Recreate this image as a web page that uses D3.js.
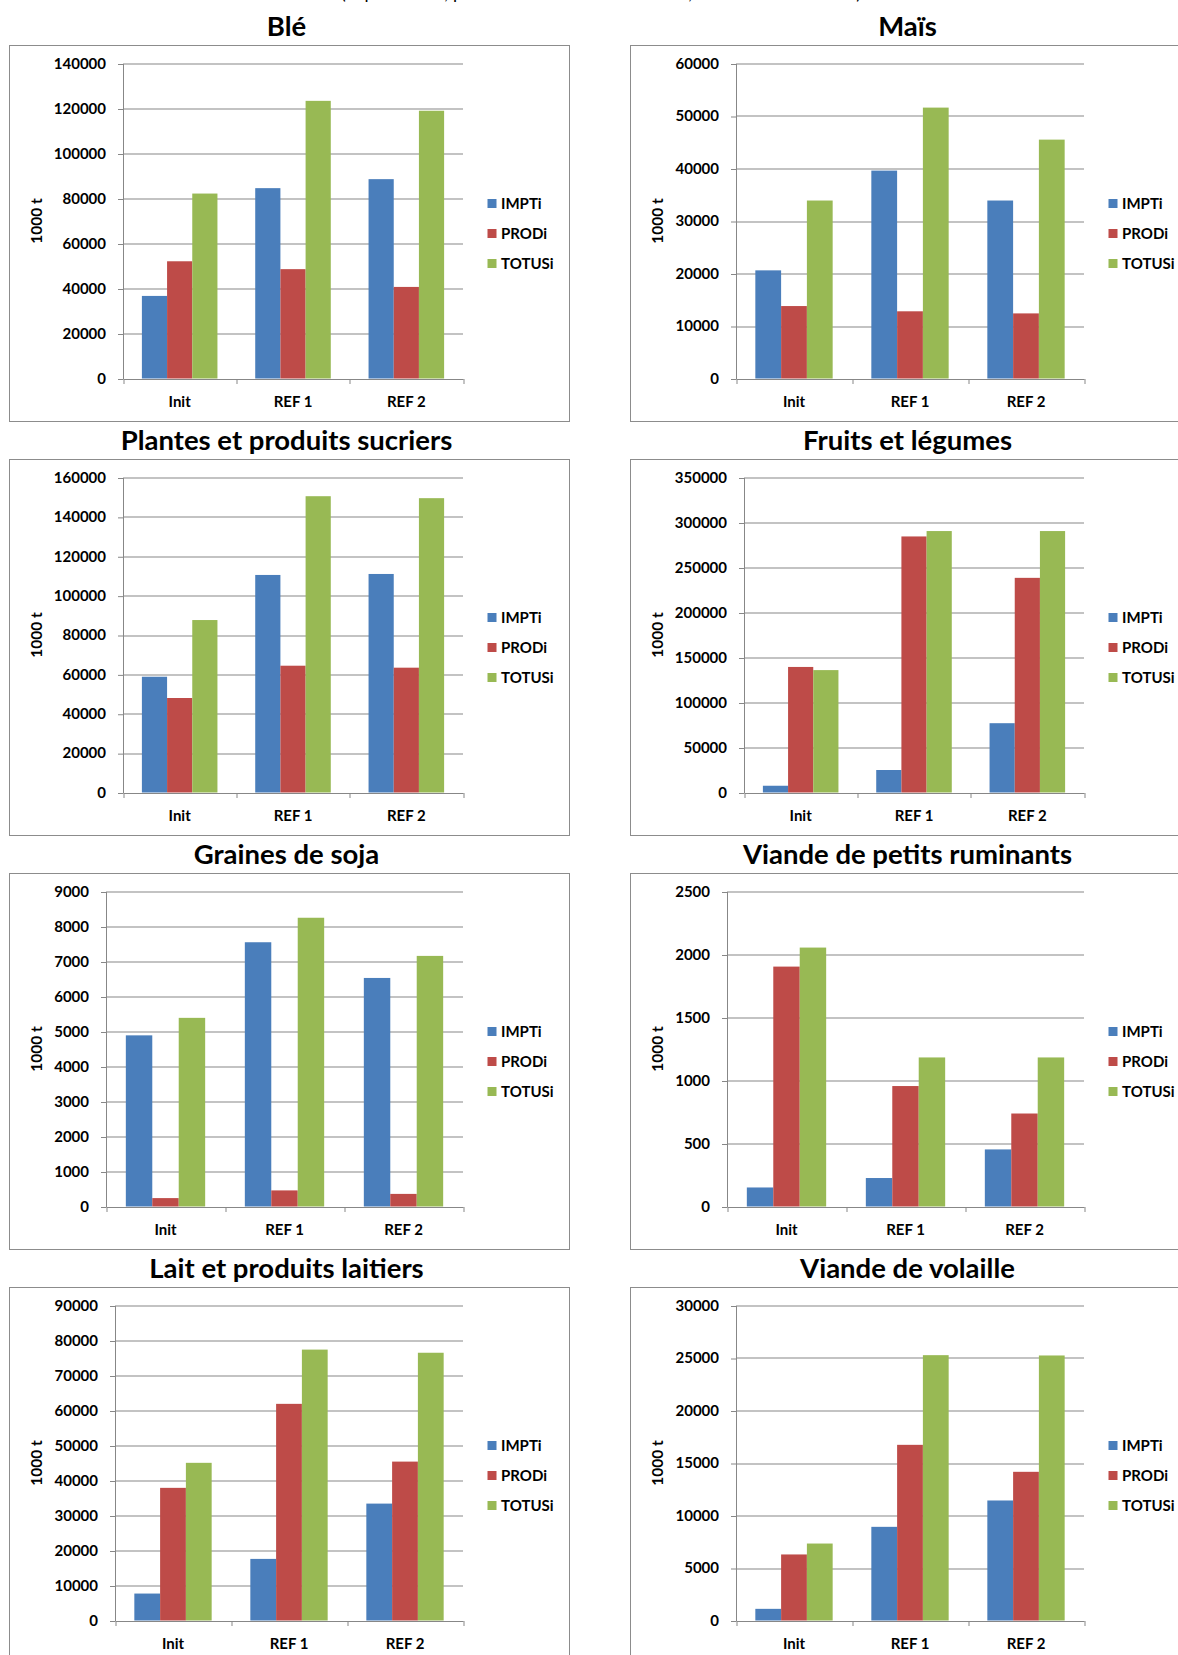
<!DOCTYPE html>
<html><head><meta charset="utf-8">
<script src="https://cdn.jsdelivr.net/npm/d3@7"></script>
<style>
body{margin:0;background:#fff}
svg{display:block}
text{font-family:Lato,"Open Sans",sans-serif}
</style>
</head><body>
<svg id="chart" width="1178" height="1655"></svg>
<script>
// ---------- DATA ----------
const categories = ["Init", "REF 1", "REF 2"];
const seriesNames = ["IMPTi", "PRODi", "TOTUSi"];
const panelTitles = ["Blé", "Maïs", "Plantes et produits sucriers", "Fruits et légumes",
  "Graines de soja", "Viande de petits ruminants", "Lait et produits laitiers", "Viande de volaille"];
const yMaxima = [140000, 60000, 160000, 350000, 9000, 2500, 90000, 30000];
const yTickSteps = [20000, 10000, 20000, 50000, 1000, 500, 10000, 5000];
const yAxisTitle = "1000 t";
const pageSubtitle = "(importations, production et utilisation totale, en milliers de tonnes)";

// each panel: [IMPTi values, PRODi values, TOTUSi values] over categories
const ble        = [[36700, 84600, 88600], [52100, 48600, 40700], [82200, 123400, 119000]];
const mais       = [[20600, 39600, 33900], [13800, 12800, 12400], [33900, 51600, 45500]];
const sucriers   = [[58800, 110500, 111000], [48000, 64400, 63400], [87600, 150500, 149500]];
const fruitsLeg  = [[7500, 25000, 77000], [139500, 284500, 238500], [136000, 290500, 290500]];
const soja       = [[4890, 7550, 6530], [240, 460, 360], [5390, 8250, 7160]];
const ruminants  = [[151, 226, 453], [1904, 956, 738], [2055, 1183, 1183]];
const laitiers   = [[7700, 17600, 33400], [37900, 61900, 45400], [45050, 77400, 76500]];
const volaille   = [[1110, 8920, 11430], [6290, 16730, 14160], [7330, 25270, 25240]];
const panelValues = [ble, mais, sucriers, fruitsLeg, soja, ruminants, laitiers, volaille];

// ---------- STYLE / LAYOUT ----------
const seriesColors = ["#4A7EBB", "#BE4B48", "#98B954"];
const lineColor = "#878787";
const colX = [9.5, 630.5];
const rowY = [45.5, 459.5, 873.5, 1287.5];
const boxW = 560, boxH = 376;
const plotTop = 18, plotBottom = 333, plotRight = 453;

const svg = d3.select("#chart");
svg.append("rect").attr("width", 1178).attr("height", 1655).attr("fill", "#fff");

svg.append("text")
  .attr("x", 601).attr("y", -1)
  .attr("text-anchor", "middle")
  .attr("font-size", 20)
  .attr("textLength", 520)
  .attr("lengthAdjust", "spacingAndGlyphs")
  .text(pageSubtitle);

const fmt = d3.format("d");

panelValues.forEach((vals, i) => {
  const bx = colX[i % 2], by = rowY[Math.floor(i / 2)];
  const g = svg.append("g").attr("transform", `translate(${bx},${by})`);

  g.append("rect").attr("x", 0).attr("y", 0).attr("width", boxW).attr("height", boxH)
    .attr("fill", "#fff").attr("stroke", "#8c8c8c").attr("stroke-width", 1);

  g.append("text").attr("x", 277).attr("y", -19).attr("dy", "0.36em")
    .attr("text-anchor", "middle").attr("font-size", 27.5).attr("font-weight", 700)
    .text(panelTitles[i]);

  const max = yMaxima[i], step = yTickSteps[i];
  const ticks = d3.range(0, max + step / 2, step);

  // measure widest tick label
  const tmp = g.append("text").attr("font-size", 15).attr("font-weight", 700).text(fmt(max));
  const labelW = tmp.node().getComputedTextLength();
  tmp.remove();
  const axisX = Math.round(44 + labelW + 17) + 0.5;

  const y = d3.scaleLinear().domain([0, max]).range([plotBottom, plotTop]);
  const x0 = d3.scaleBand().domain(categories).range([axisX, plotRight + 0.5])
    .paddingInner(1 / 3).paddingOuter(1 / 6);
  const x1 = d3.scaleBand().domain(seriesNames).range([0, x0.bandwidth()]);

  // gridlines
  g.append("g").selectAll("line").data(ticks.filter(t => t > 0)).join("line")
    .attr("x1", axisX).attr("x2", plotRight + 0.5)
    .attr("y1", d => Math.round(y(d)) + 0.5).attr("y2", d => Math.round(y(d)) + 0.5)
    .attr("stroke", lineColor).attr("stroke-width", 1);

  // bars
  const cg = g.append("g").selectAll("g").data(categories).join("g")
    .attr("transform", c => `translate(${x0(c)},0)`);
  cg.selectAll("rect").data((c, ci) => seriesNames.map((s, si) => ({ s, si, v: vals[si][ci] })))
    .join("rect")
    .attr("x", d => x1(d.s)).attr("width", x1.bandwidth())
    .attr("y", d => y(d.v)).attr("height", d => y(0) - y(d.v))
    .attr("fill", d => seriesColors[d.si]);

  // y axis
  const ya = g.append("g").attr("transform", `translate(${axisX},0)`)
    .call(d3.axisLeft(y).tickValues(ticks).tickSize(5).tickSizeOuter(0).tickPadding(12).tickFormat(fmt));
  ya.select(".domain").attr("stroke", lineColor);
  ya.selectAll(".tick line").attr("stroke", lineColor).attr("transform", "translate(0,0.5)");
  ya.selectAll(".tick text").attr("font-size", 15).attr("font-weight", 700).attr("fill", "#000")
    .attr("font-family", "Lato");

  // x axis
  const xa = g.append("g").attr("transform", `translate(0,${plotBottom + 0.5})`)
    .call(d3.axisBottom(x0).tickSize(0).tickSizeOuter(0).tickPadding(17));
  xa.select(".domain").attr("stroke", lineColor);
  xa.selectAll(".tick text").attr("font-size", 15).attr("font-weight", 700).attr("fill", "#000")
    .attr("font-family", "Lato");
  const xStart = x0.range()[0], stepW = (x0.range()[1] - x0.range()[0]) / categories.length;
  xa.append("g").selectAll("line").data(d3.range(0, categories.length + 1)).join("line")
    .attr("x1", k => Math.round(xStart + k * stepW) + 0.5).attr("x2", k => Math.round(xStart + k * stepW) + 0.5)
    .attr("y1", 0).attr("y2", 5).attr("stroke", lineColor);

  // y axis title
  g.append("text").attr("transform", `translate(27,${(plotTop + plotBottom) / 2}) rotate(-90)`)
    .attr("dy", "0.36em").attr("text-anchor", "middle")
    .attr("font-size", 15.5).attr("font-weight", 700).text(yAxisTitle);

  // legend
  const lg = g.append("g").selectAll("g").data(seriesNames).join("g")
    .attr("transform", (s, k) => `translate(478,${158 + 30 * k})`);
  lg.append("rect").attr("x", 0).attr("y", -4.5).attr("width", 9).attr("height", 9)
    .attr("fill", (s, k) => seriesColors[k]);
  lg.append("text").attr("x", 13.5).attr("dy", "0.36em")
    .attr("font-size", 15).attr("font-weight", 700).text(s => s);
});
</script>
</body></html>
